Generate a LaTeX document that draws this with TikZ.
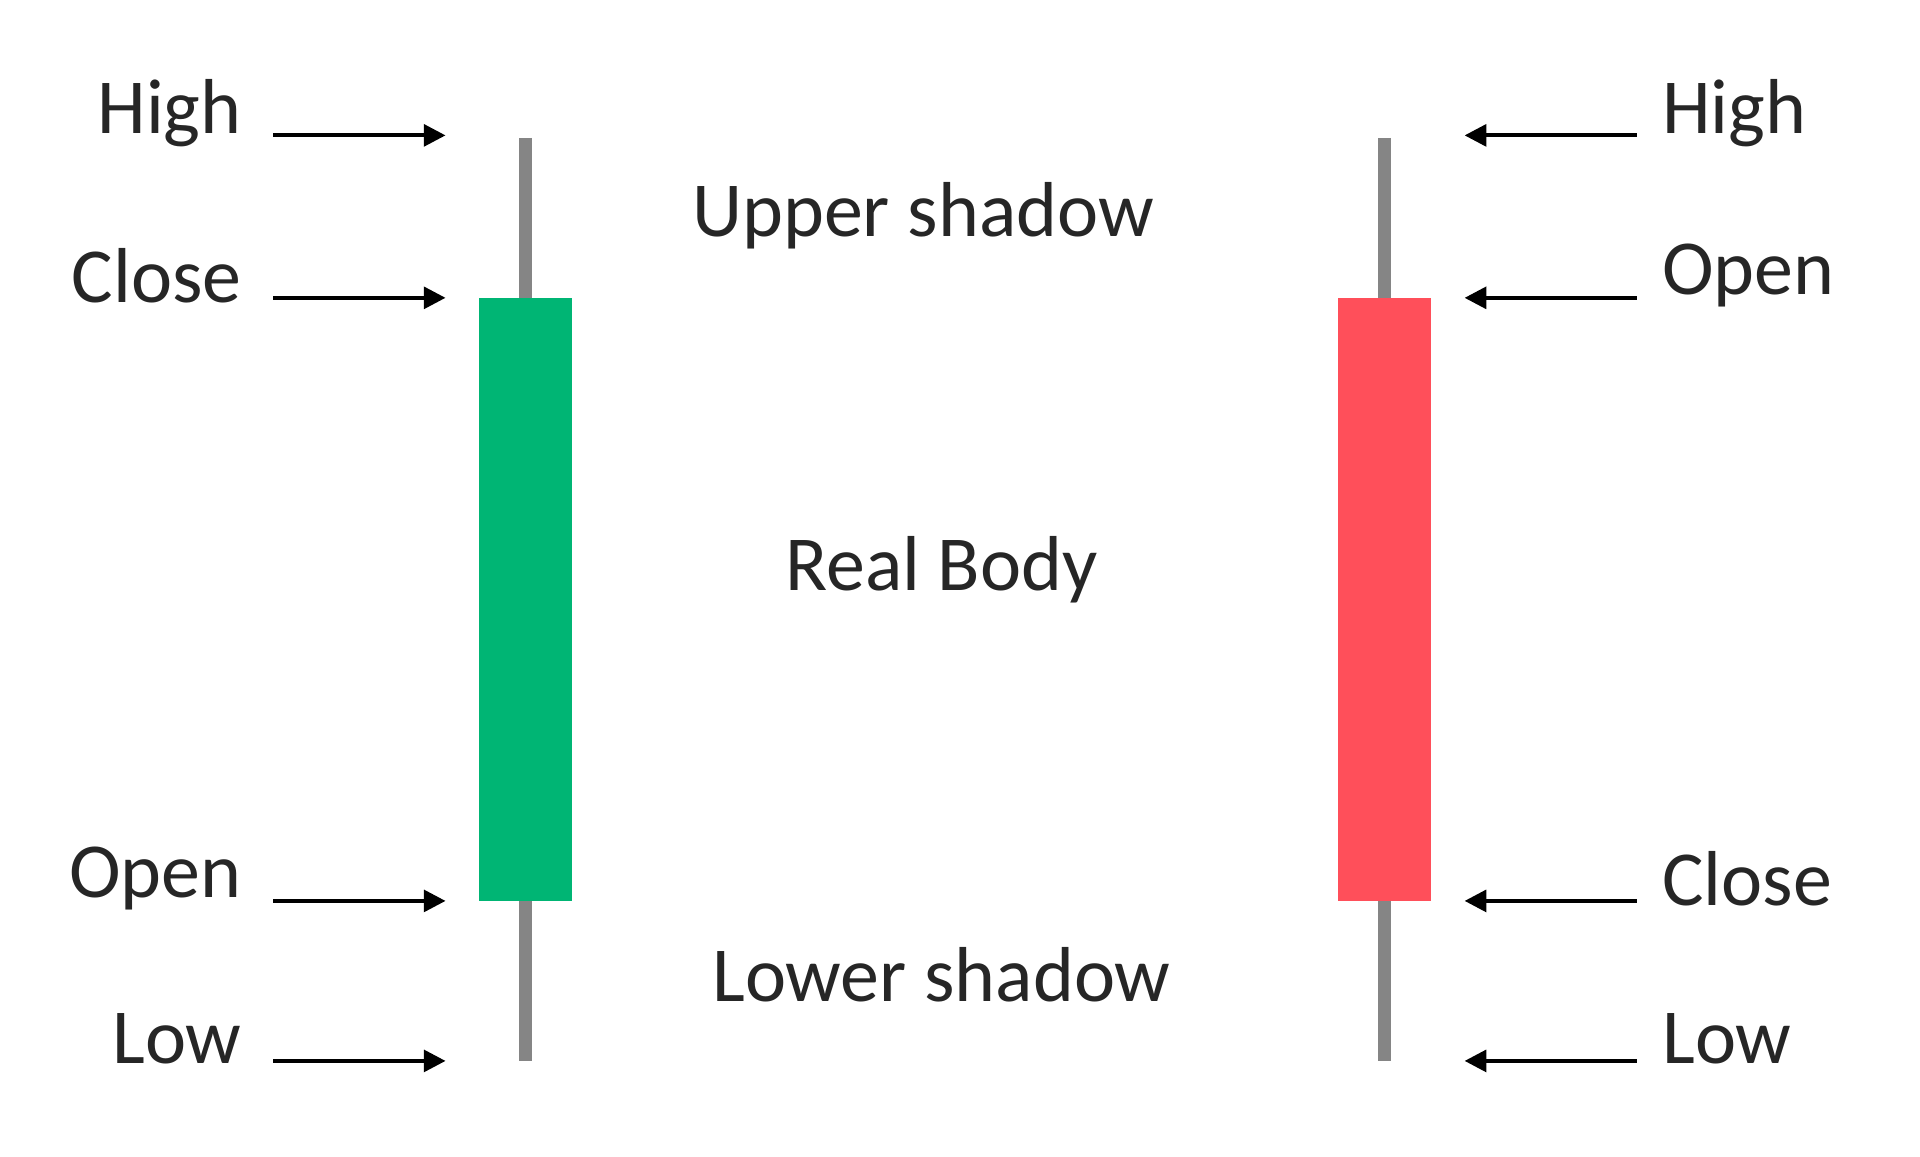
\documentclass[tikz,border=0pt]{standalone}
\usepackage{fontspec}
\setmainfont{Carlito}
\usetikzlibrary{arrows.meta}
\definecolor{bullgreen}{HTML}{00B574}
\definecolor{bearred}{HTML}{FF4F5A}
\definecolor{wickgray}{HTML}{858585}
\tikzset{
  lbl/.style={font=\fontsize{18}{22}\selectfont, inner sep=0pt, text=black!85},
  pointer/.style={line width=0.9pt, -{Triangle[length=5pt,width=5pt]}},
  wick/.style={line width=3pt, draw=wickgray},
}
\begin{document}
\begin{tikzpicture}[x=0.01cm,y=-0.01cm]
  \useasboundingbox (0,0) rectangle (1560,940);
  % candles
  \draw[wick] (427,112) -- (427,862);
  \fill[bullgreen] (389,242) rectangle (465,732);
  \draw[wick] (1125,112) -- (1125,862);
  \fill[bearred] (1087,242) rectangle (1163,732);
  % left side
  \foreach \name/\txt/\y in {lh/High/110, lc/Close/242, lo/Open/732, ll/Low/862} {
    \coordinate (\name s) at (222,\y);
    \coordinate (\name e) at (362,\y);
    \node[lbl, anchor=east] (\name) at (197,\y-18) {\txt};
    \draw[pointer] (\name s) -- (\name e);
  }
  % right side
  \foreach \name/\txt/\y in {rh/High/110, ro/Open/242, rc/Close/732, rl/Low/862} {
    \coordinate (\name s) at (1330,\y);
    \coordinate (\name e) at (1190,\y);
    \node[lbl, anchor=west] (\name) at (1350,\y-18) {\txt};
    \draw[pointer] (\name s) -- (\name e);
  }
  % middle
  \node[lbl] (upper) at (750,175) {Upper shadow};
  \node[lbl] (body) at (765,463) {Real Body};
  \node[lbl] (lower) at (765,792) {Lower shadow};
\end{tikzpicture}
\end{document}
